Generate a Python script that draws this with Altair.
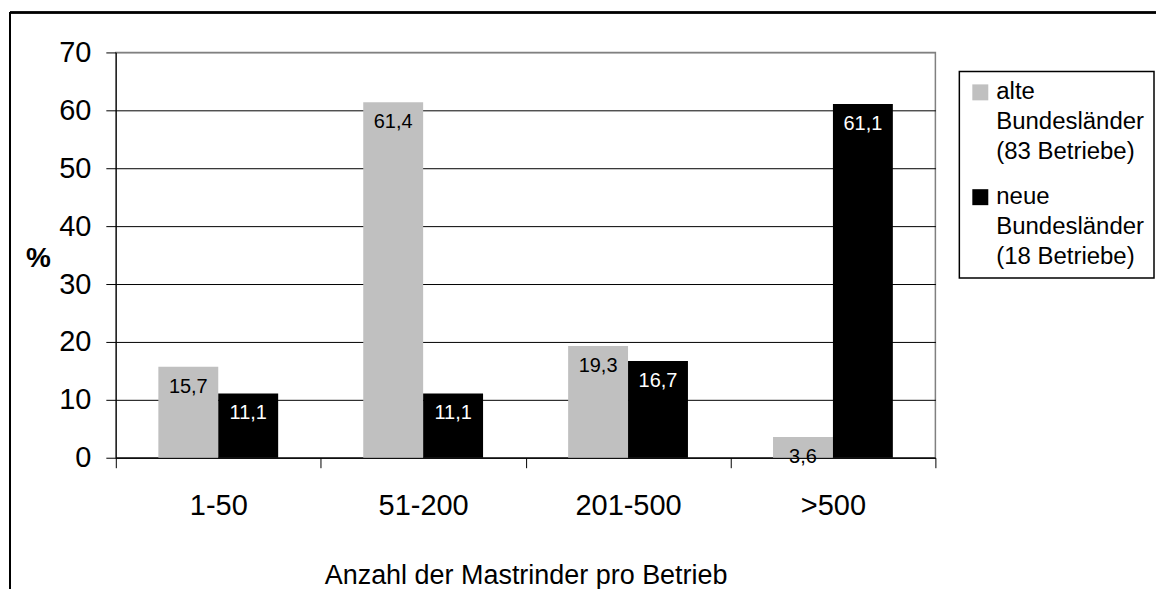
import altair as alt
import pandas as pd

categories = ["1-50", "51-200", "201-500", ">500"]
series_keys = ["alte", "neue"]
series_lines = {
    "alte": ["alte", "Bundesländer", "(83 Betriebe)"],
    "neue": ["neue", "Bundesländer", "(18 Betriebe)"],
}
alte_values = [15.7, 61.4, 19.3, 3.6]
neue_values = [11.1, 11.1, 16.7, 61.1]
y_ticks = [0, 10, 20, 30, 40, 50, 60, 70]
x_title = "Anzahl der Mastrinder pro Betrieb"
y_title = "%"

rows = []
for c, a, n in zip(categories, alte_values, neue_values):
    rows.append({"category": c, "series": "alte", "value": a})
    rows.append({"category": c, "series": "neue", "value": n})
df = pd.DataFrame(rows)

FONT = "Liberation Sans"
GREY = "#C0C0C0"

label_expr = " : ".join(
    [f"datum.label == '{k}' ? {series_lines[k]!r}" for k in series_keys]
) + " : datum.label"

x_enc = alt.X(
    "category:N",
    sort=categories,
    scale=alt.Scale(paddingInner=0, paddingOuter=0),
    axis=alt.Axis(
        title=x_title,
        labelAngle=0,
        labelFontSize=29,
        labelColor="black",
        labelPadding=24,
        tickBand="extent",
        tickSize=10,
        tickColor="black",
        domainColor="black",
        titleFontSize=27,
        titleFontWeight="normal",
        titleColor="black",
        titleBaseline="alphabetic",
        titleY=126,
        grid=False,
    ),
)
xoff = alt.XOffset(
    "series:N", sort=series_keys, scale=alt.Scale(paddingInner=0, paddingOuter=0.71)
)

bars = alt.Chart(df).mark_bar().encode(
    x=x_enc,
    xOffset=xoff,
    y=alt.Y(
        "value:Q",
        scale=alt.Scale(domain=[0, 70], nice=False),
        axis=alt.Axis(
            title=y_title,
            values=y_ticks,
            labelFontSize=29,
            labelColor="black",
            labelPadding=15,
            tickSize=10,
            tickColor="black",
            domainColor="black",
            gridColor={"condition": {"test": "datum.value === 70", "value": "#808080"}, "value": "black"},
            gridWidth=1,
            titleAngle=0,
            titleFontSize=28,
            titleFontWeight="bold",
            titleColor="black",
            titleX=-78,
            titleY=206,
            titleAlign="center",
            titleBaseline="middle",
        ),
    ),
    color=alt.Color(
        "series:N",
        sort=series_keys,
        scale=alt.Scale(domain=series_keys, range=[GREY, "black"]),
        legend=alt.Legend(
            title=None,
            orient="none",
            legendX=845,
            legendY=19,
            labelExpr=label_expr,
            labelFontSize=24,
            labelBaseline="middle",
            labelColor="black",
            labelLimit=0,
            labelOffset=4,
            symbolType="square",
            symbolSize=256,
            symbolStrokeWidth=0,
            symbolOpacity=1,
            rowPadding=21,
            padding=9,
            strokeColor="black",
            fillColor="white",
        ),
    ),
)

labels = alt.Chart(df).transform_calculate(
    txt="replace(format(datum.value, '.1f'), '.', ',')"
).mark_text(baseline="middle", dy=20, fontSize=20, font=FONT).encode(
    x=alt.X("category:N", sort=categories),
    xOffset=xoff,
    y="value:Q",
    text="txt:N",
    color=alt.condition(alt.datum.series == "neue", alt.value("white"), alt.value("black")),
)

frame_left = alt.Chart(df).mark_rule(color="black", strokeWidth=1.5).encode(
    x=alt.value(-106), y=alt.value(-40), y2=alt.value(800)
)
frame_top = alt.Chart(df).mark_rule(color="black", strokeWidth=1.5).encode(
    x=alt.value(-106), x2=alt.value(1400), y=alt.value(-40)
)

chart = alt.layer(bars, labels, frame_left, frame_top).properties(
    width=821,
    height=406,
    autosize=alt.AutoSizeParams(type="none"),
    padding={"left": 108, "top": 44, "right": 221, "bottom": 131},
).configure(
    font=FONT, style={"guide-label": {"lineHeight": 30}}
).configure_view(stroke="#808080", strokeWidth=1.5).configure_legend(
    strokeWidth=1.5
)

chart.save("out.html", embed_options={"renderer": "svg", "actions": False})
